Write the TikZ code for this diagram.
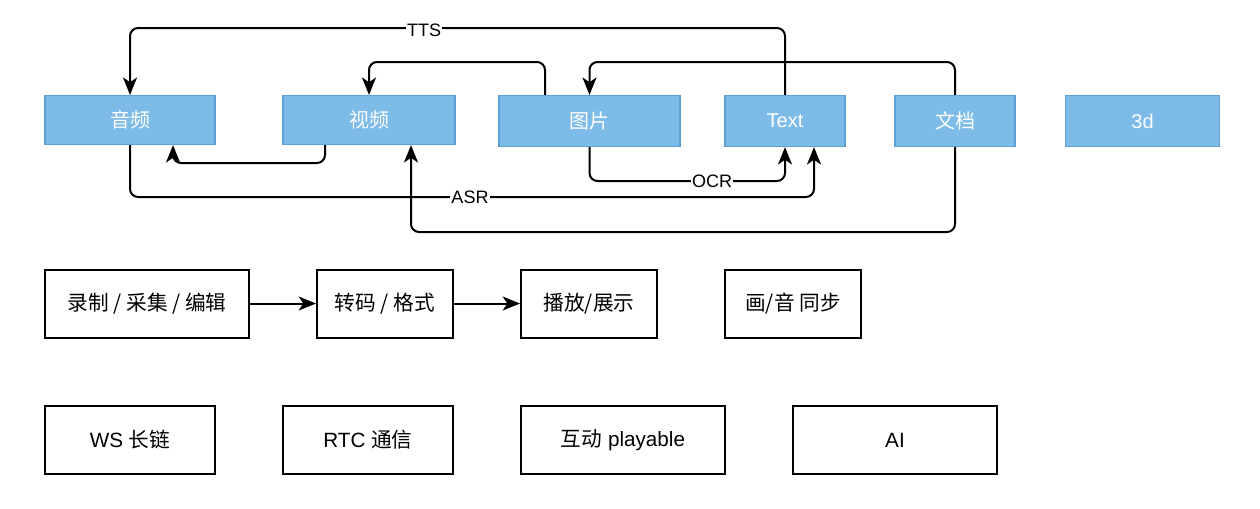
\documentclass[tikz,border=0pt]{standalone}
\usepackage{fontspec}
\setmainfont{Liberation Sans}
\newfontfamily\cjk{Noto Sans CJK SC}
\usetikzlibrary{arrows.meta}
\definecolor{mfill}{HTML}{7DBBE8}
\definecolor{mstroke}{HTML}{5E9FD6}
\begin{document}
\begin{tikzpicture}[x=0.75pt,y=-0.75pt,
  media/.style={draw=mstroke, fill=mfill, text=white, line width=1.2pt, inner sep=0pt,
    font=\fontsize{15}{17}\selectfont},
  plain/.style={draw=black, fill=white, text=black, line width=1.5pt, inner sep=0pt,
    font=\fontsize{15.5}{17}\selectfont, minimum height=51pt},
  conn/.style={draw=black, line width=1.5pt, rounded corners=6pt,
    -{Stealth[length=13pt,width=10.5pt,inset=3.5pt]}},
  lbl/.style={fill=white, inner sep=1pt, font=\fontsize{13.5}{15}\selectfont}]
\useasboundingbox (0,0) rectangle (1260,508);

% top row
\node[media, minimum width=127.5pt, minimum height=36.5pt] (au) at (130,120) {\cjk 音频};
\node[media, minimum width=129pt, minimum height=36.5pt] (vi) at (369,120) {\cjk 视频};
\node[media, minimum width=135.75pt, minimum height=38pt] (im) at (589.5,121) {\cjk 图片};
\node[media, minimum width=90pt, minimum height=38pt] (tx) at (785,121) {Text};
\node[media, minimum width=90pt, minimum height=38pt] (dc) at (955,121) {\cjk 文档};
\node[media, minimum width=115.5pt, minimum height=38pt] (td) at (1142.5,121) {3d};

% connectors
\draw[conn] (tx.north) -- (785,28) -- (130,28) -- (au.north);
\node[lbl] (ttsl) at (424,30) {TTS};
\draw[conn] (im.north -| 545,0) -- (545,62) -- (369,62) -- (vi.north);
\draw[conn] (dc.north) -- (955,62) -- (589.5,62) -- (im.north);
\draw[conn] (vi.south -| 325,0) -- (325,163) -- (173,163) -- (au.south -| 173,0);
\draw[conn] (au.south) -- (130,197) -- (814,197) -- (tx.south -| 814,0);
\node[lbl] (asrl) at (470,197) {ASR};
\draw[conn] (im.south) -- (589.5,181) -- (785,181) -- (tx.south);
\node[lbl] (ocrl) at (712,181) {OCR};
\draw[conn] (dc.south) -- (955,232) -- (411,232) -- (vi.south -| 411,0);

% middle row
\node[plain, minimum width=153pt] (rec) at (147,303.5) {\cjk 录制 / 采集 / 编辑};
\node[plain, minimum width=102pt] (tra) at (385,303.5) {\cjk 转码 / 格式};
\node[plain, minimum width=102pt] (pla) at (589,303.5) {\cjk 播放/展示};
\node[plain, minimum width=102pt] (syn) at (793,303.5) {\cjk 画/音 同步};
\draw[conn] (rec) -- (tra);
\draw[conn] (tra) -- (pla);

% bottom row
\node[plain, minimum width=127.5pt] (ws) at (130,440) {WS {\cjk 长链}};
\node[plain, minimum width=127.5pt] (rtc) at (368,440) {RTC {\cjk 通信}};
\node[plain, minimum width=153pt] (hd) at (623,440) {{\cjk 互动} playable};
\node[plain, minimum width=153pt] (ai) at (895,440) {AI};
\end{tikzpicture}
\end{document}
